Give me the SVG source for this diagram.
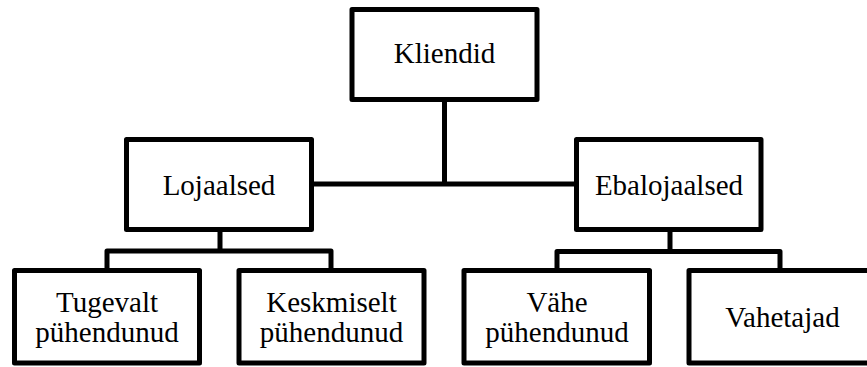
<svg xmlns="http://www.w3.org/2000/svg" width="867" height="367" viewBox="0 0 867 367">
  <style>
    .box { fill: #ffffff; stroke: #000000; stroke-width: 5; stroke-linejoin: round; }
    .link { fill: none; stroke: #000000; stroke-width: 5; stroke-linejoin: round; }
    .label { font-family: 'Liberation Serif', 'Times New Roman', serif; font-size: 29px; fill: #000000; text-anchor: middle; }
  </style>
  <rect width="867" height="367" fill="#ffffff"/>
  <!-- tree connectors -->
  <g id="connectors">
    <path class="link" d="M444.5 99.5 V184"/>
    <path class="link" d="M311.5 184 H576.5"/>
    <path class="link" d="M220 229 V251 M107 270.5 V251 H331 V270.5"/>
    <path class="link" d="M670 229 V251.5 M557 270.5 V251.5 H780 V270.5"/>
  </g>
  <g id="kliendid">
    <rect class="box" x="352" y="9.5" width="185" height="90"/>
    <text class="label" x="444.5" y="63">Kliendid</text>
  </g>
  <g id="lojaalsed">
    <rect class="box" x="126.5" y="139.5" width="185" height="90"/>
    <text class="label" x="219" y="195">Lojaalsed</text>
  </g>
  <g id="ebalojaalsed">
    <rect class="box" x="576.5" y="139.5" width="184.5" height="90"/>
    <text class="label" x="669" y="194.5">Ebalojaalsed</text>
  </g>
  <g id="tugevalt">
    <rect class="box" x="14.5" y="270.5" width="185" height="92.5"/>
    <text class="label" x="107" y="311.5">Tugevalt</text>
    <text class="label" x="107" y="341.5">pühendunud</text>
  </g>
  <g id="keskmiselt">
    <rect class="box" x="239" y="270.5" width="185" height="92.5"/>
    <text class="label" x="331.5" y="311.5">Keskmiselt</text>
    <text class="label" x="331.5" y="341.5">pühendunud</text>
  </g>
  <g id="vahe">
    <rect class="box" x="464" y="270.5" width="185.5" height="92.5"/>
    <text class="label" x="557" y="311.5">Vähe</text>
    <text class="label" x="557" y="341.5">pühendunud</text>
  </g>
  <g id="vahetajad">
    <rect class="box" x="689" y="270.5" width="185" height="92.5"/>
    <text class="label" x="782.5" y="326.5">Vahetajad</text>
  </g>
</svg>
